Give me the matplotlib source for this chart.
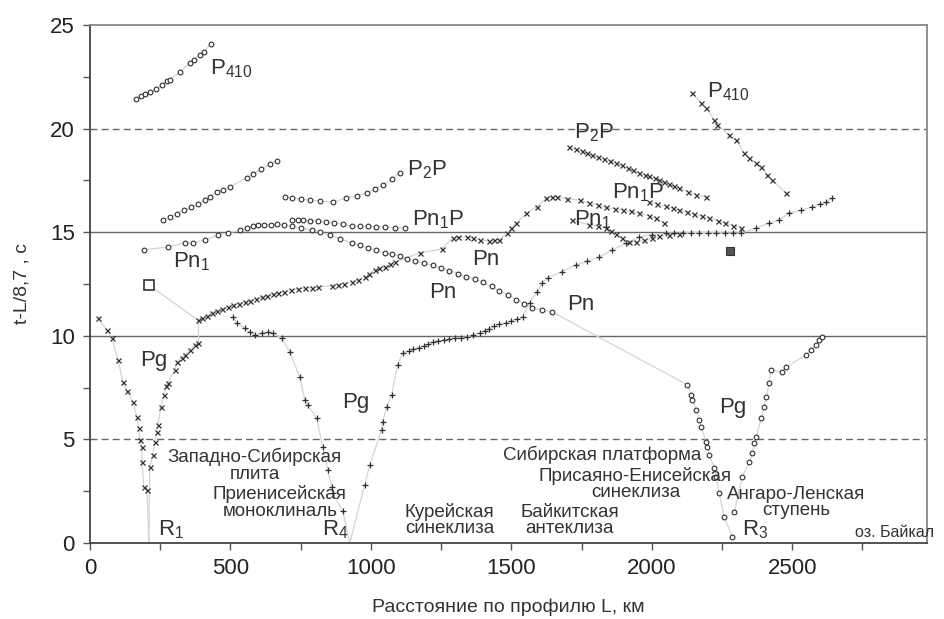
import matplotlib
matplotlib.use("Agg")
import matplotlib.pyplot as plt
from matplotlib.ticker import MultipleLocator

plt.rcParams['font.family'] = ['Liberation Sans', 'DejaVu Sans']
plt.rcParams['mathtext.fontset'] = 'custom'
plt.rcParams['mathtext.rm'] = 'Liberation Sans'

# shot points, km
r1_x = 210
r4_x = 925
r3_x = 2290

# --- R1 (crosses) ---
r1_pg_left_x = [28, 60, 78, 100, 117, 132, 153, 167, 174, 178, 185, 185, 192, 203]
r1_pg_left_y = [10.86, 10.28, 9.89, 8.83, 7.77, 7.34, 6.8, 6.08, 5.55, 4.97, 4.63, 3.9, 2.7, 2.56]
r1_pg_right_x = [213, 224, 231, 238, 242, 252, 263, 270, 277, 302, 309, 327, 338, 356, 373, 384]
r1_pg_right_y = [3.67, 4.25, 4.87, 5.36, 5.69, 6.56, 7.14, 7.58, 7.72, 8.35, 8.74, 8.93, 9.07, 9.31, 9.56, 9.65]
r1_pn_x = [384, 400, 418, 434, 452, 470, 491, 510, 530, 551, 570, 592, 612, 630, 650, 669, 690, 715,
           740, 765, 790, 811, 860, 882, 905, 932, 955, 978, 995, 1013, 1030, 1049, 1068, 1085,
           1174, 1252, 1291, 1310, 1341, 1365, 1387, 1422, 1440, 1458, 1483, 1500, 1518, 1554,
           1590, 1625, 1645, 1661, 1700, 1743, 1778, 1810, 1838, 1870, 1896, 1925, 1956, 1990,
           2016, 2045]
r1_pn_y = [10.76, 10.85, 10.95, 11.1, 11.2, 11.28, 11.39, 11.47, 11.55, 11.63, 11.7, 11.8, 11.87,
           11.93, 12.0, 12.07, 12.12, 12.2, 12.26, 12.3, 12.33, 12.36, 12.42, 12.45, 12.52, 12.6,
           12.7, 12.84, 13.0, 13.18, 13.25, 13.32, 13.45, 13.56, 14.0, 14.19, 14.72, 14.75, 14.77,
           14.7, 14.62, 14.58, 14.6, 14.62, 14.96, 15.2, 15.44, 15.93, 16.22, 16.65, 16.7, 16.7,
           16.62, 16.55, 16.4, 16.3, 16.2, 16.12, 16.07, 16.0, 15.93, 15.8, 15.68, 15.44]
r1_pn1_x = [1715, 1778, 1810, 1838, 1856, 1874, 1895, 1920, 1945, 1974, 2000, 2027, 2060, 2098]
r1_pn1_y = [15.6, 15.35, 15.3, 15.2, 15.05, 14.91, 14.7, 14.55, 14.52, 14.6, 14.7, 14.8, 14.88, 14.93]
r1_pn1p_x = [1991, 2020, 2050, 2075, 2098, 2125, 2150, 2180, 2205, 2235, 2260, 2290, 2319]
r1_pn1p_y = [16.46, 16.35, 16.25, 16.15, 16.07, 15.97, 15.87, 15.77, 15.68, 15.56, 15.45, 15.32, 15.2]
r1_p2p_x = [1707, 1730, 1750, 1770, 1789, 1810, 1830, 1850, 1874, 1895, 1915, 1935, 1956, 1975,
            1990, 2010, 2027, 2045, 2060, 2080, 2098, 2130, 2159, 2194]
r1_p2p_y = [19.11, 19.0, 18.92, 18.82, 18.73, 18.64, 18.55, 18.45, 18.34, 18.22, 18.1, 17.98, 17.86,
            17.77, 17.7, 17.6, 17.52, 17.42, 17.33, 17.23, 17.13, 16.95, 16.8, 16.7]
r1_p410_x = [2145, 2176, 2194, 2223, 2234, 2276, 2301, 2329, 2347, 2372, 2390, 2411, 2429, 2478]
r1_p410_y = [21.7, 21.24, 20.99, 20.41, 20.17, 19.69, 19.45, 18.82, 18.58, 18.34, 18.15, 17.76, 17.52, 16.89]

# --- R4 (pluses) ---
r4_pg_left_x = [509, 523, 551, 569, 587, 612, 633, 651, 683, 711, 747, 765, 775, 807, 829, 846, 861, 864, 900]
r4_pg_left_y = [10.9, 10.6, 10.37, 10.18, 10.04, 10.13, 10.18, 10.13, 9.89, 9.22, 8.01, 6.9, 6.66,
                6.03, 4.63, 3.52, 2.7, 2.41, 1.54]
r4_pn_x = [978, 996, 1038, 1042, 1056, 1074, 1095, 1113, 1135, 1150, 1170, 1190, 1205, 1220, 1240,
           1260, 1280, 1300, 1320, 1341, 1365, 1387, 1405, 1420, 1440, 1458, 1480, 1500, 1520,
           1540, 1565, 1590, 1611, 1629, 1680, 1732, 1770, 1814, 1860, 1910, 1956, 2000, 2052,
           2080, 2110, 2140, 2170, 2200, 2230, 2260, 2290, 2319, 2372, 2418, 2454, 2489, 2530,
           2571, 2600, 2620, 2642]
r4_pn_y = [2.8, 3.76, 5.45, 5.84, 6.56, 7.14, 8.59, 9.17, 9.25, 9.35, 9.42, 9.5, 9.6, 9.7, 9.75,
           9.8, 9.84, 9.88, 9.9, 9.94, 10.05, 10.13, 10.25, 10.35, 10.45, 10.55, 10.62, 10.72, 10.8,
           10.9, 11.6, 12.1, 12.55, 12.79, 13.1, 13.42, 13.6, 13.8, 14.14, 14.48, 14.77, 14.88,
           14.96, 14.96, 14.97, 14.98, 14.98, 14.98, 14.97, 14.97, 14.96, 14.96, 15.2, 15.44, 15.59,
           15.93, 16.05, 16.22, 16.35, 16.46, 16.65]

# --- R3 (circles) ---
r3_p410_x = [165, 180, 195, 215, 235, 255, 275, 284, 320, 356, 370, 391, 405, 430]
r3_p410_y = [21.45, 21.55, 21.65, 21.75, 21.9, 22.1, 22.3, 22.35, 22.73, 23.17, 23.3, 23.55, 23.7, 24.08]
r3_p2p_a_x = [260, 285, 310, 335, 360, 385, 410, 427, 452, 475, 498, 558, 580, 610, 640, 665]
r3_p2p_a_y = [15.59, 15.75, 15.9, 16.05, 16.2, 16.35, 16.55, 16.7, 16.94, 17.05, 17.18, 17.62, 17.8,
              18.05, 18.3, 18.44]
r3_p2p_b_x = [693, 720, 750, 782, 820, 865, 913, 950, 985, 1015, 1042, 1075, 1102]
r3_p2p_b_y = [16.7, 16.65, 16.6, 16.55, 16.5, 16.46, 16.65, 16.75, 16.9, 17.1, 17.28, 17.55, 17.86]
r3_pn1p_x = [718, 740, 760, 785, 811, 840, 870, 900, 932, 960, 990, 1020, 1049, 1085, 1120]
r3_pn1p_y = [15.59, 15.58, 15.57, 15.56, 15.54, 15.5, 15.45, 15.38, 15.3, 15.29, 15.28, 15.26, 15.25,
             15.22, 15.2]
r3_pn_x = [192, 277, 338, 366, 409, 455, 491, 533, 560, 580, 600, 620, 645, 665, 690, 718, 750, 790,
           820, 853, 890, 932, 960, 990, 1020, 1049, 1075, 1102, 1130, 1156, 1190, 1220, 1250, 1280,
           1310, 1340, 1370, 1398, 1430, 1458, 1490, 1518, 1545, 1575, 1610, 1646]
r3_pn_y = [14.14, 14.29, 14.48, 14.48, 14.62, 14.86, 14.96, 15.1, 15.22, 15.3, 15.33, 15.35, 15.37,
           15.38, 15.35, 15.3, 15.2, 15.1, 15.0, 14.86, 14.68, 14.48, 14.37, 14.25, 14.12, 14.0,
           13.93, 13.85, 13.72, 13.6, 13.5, 13.4, 13.28, 13.15, 13.0, 12.85, 12.72, 12.6, 12.38,
           12.15, 11.95, 11.75, 11.55, 11.35, 11.25, 11.15]
r3_pg_left_x = [2127, 2141, 2145, 2159, 2169, 2176, 2194, 2198, 2205, 2223, 2230, 2240, 2258, 2287]
r3_pg_left_y = [7.63, 7.14, 6.9, 6.42, 5.94, 5.6, 4.87, 4.63, 4.25, 3.62, 3.19, 2.41, 1.25, 0.29]
r3_pg_right_x = [2294, 2322, 2347, 2358, 2365, 2372, 2390, 2400, 2408, 2418, 2425, 2464, 2478, 2550,
                 2568, 2585, 2596, 2607]
r3_pg_right_y = [1.5, 3.19, 3.9, 4.34, 4.83, 5.12, 6.03, 6.56, 7.05, 7.72, 8.35, 8.25, 8.49, 9.07,
                 9.31, 9.56, 9.8, 9.94]

# reference marks
open_sq = (210, 12.45)
solid_sq = (2280, 14.1)

fig = plt.figure(figsize=(9.44, 6.19), dpi=100)
ax = fig.add_axes([0.0953, 0.1228, 0.8867, 0.8368])

faint = dict(color='#d4d4d4', lw=0.9, zorder=1)
mk_col = '#2e2e2e'


def branch(x, y, marker, ms):
    ax.plot(x, y, **faint)
    if marker == 'o':
        ax.plot(x, y, ls='none', marker='o', ms=ms, mfc='white', mec=mk_col, mew=0.8, zorder=3)
    else:
        ax.plot(x, y, ls='none', marker=marker, ms=ms, color=mk_col, mew=0.9, zorder=3)


for xs, ys in [(r1_pg_left_x, r1_pg_left_y), (r1_pg_right_x, r1_pg_right_y), (r1_pn_x, r1_pn_y),
               (r1_pn1_x, r1_pn1_y), (r1_pn1p_x, r1_pn1p_y), (r1_p2p_x, r1_p2p_y),
               (r1_p410_x, r1_p410_y)]:
    branch(xs, ys, 'x', 3.6)

for xs, ys in [(r4_pg_left_x, r4_pg_left_y), (r4_pn_x, r4_pn_y)]:
    branch(xs, ys, '+', 5)

for xs, ys in [(r3_p410_x, r3_p410_y), (r3_p2p_a_x, r3_p2p_a_y), (r3_p2p_b_x, r3_p2p_b_y),
               (r3_pn1p_x, r3_pn1p_y), (r3_pn_x, r3_pn_y), (r3_pg_left_x, r3_pg_left_y),
               (r3_pg_right_x, r3_pg_right_y)]:
    branch(xs, ys, 'o', 3.4)

# faint links down to the shot points and between branches
ax.plot([r1_pg_left_x[-1], r1_x], [r1_pg_left_y[-1], 0], **faint)
ax.plot([r1_pg_right_x[0], r1_x], [r1_pg_right_y[0], 0], **faint)
ax.plot([r1_pg_right_x[-1], r1_pn_x[0]], [r1_pg_right_y[-1], r1_pn_y[0]], **faint)
ax.plot([r4_pg_left_x[-1], r4_x], [r4_pg_left_y[-1], 0], **faint)
ax.plot([r4_pn_x[0], r4_x], [r4_pn_y[0], 0], **faint)
ax.plot([r3_pn_x[-1], r3_pg_left_x[0]], [r3_pn_y[-1], r3_pg_left_y[0]], **faint)
ax.plot([open_sq[0], r1_pn_x[0]], [open_sq[1], r1_pn_y[0]], **faint)

ax.plot(*open_sq, ls='none', marker='s', ms=7, mfc='white', mec='#333333', mew=1.2, zorder=4)
ax.plot(*solid_sq, ls='none', marker='s', ms=6, mfc='#555555', mec='#333333', mew=0.8, zorder=4)

# grid
for yv, ls in [(5, (0, (5, 3))), (10, '-'), (15, '-'), (20, (0, (5, 3)))]:
    ax.axhline(yv, color='#666666', lw=1.0, ls=ls, zorder=0)

ax.set_xlim(0, 2980)
ax.set_ylim(0, 25)
ax.xaxis.set_major_locator(MultipleLocator(500))
ax.xaxis.set_minor_locator(MultipleLocator(250))
ax.yaxis.set_major_locator(MultipleLocator(5))
ax.yaxis.set_minor_locator(MultipleLocator(2.5))
ax.tick_params(which='both', direction='out', length=5, width=1.0, color='#555555')
ax.tick_params(which='major', labelsize=16, labelcolor='#222222', pad=6)
for side in ['left', 'bottom']:
    ax.spines[side].set_color('#444444')
    ax.spines[side].set_linewidth(1.3)
for side in ['top', 'right']:
    ax.spines[side].set_color('#888888')
    ax.spines[side].set_linewidth(1.3)

ax.set_xlabel('Расстояние по профилю L, км', fontsize=14, color='#333333', labelpad=14)
ax.set_ylabel('t-L/8,7 , с', fontsize=14, color='#333333', labelpad=14)

# wave labels
wave_fs = 16
wave_labels = [
    (427, 22.9, r'P$_{410}$'), (1127, 18.0, r'P$_{2}$P'), (1145, 15.6, r'Pn$_{1}$P'),
    (296, 13.56, r'Pn$_{1}$'), (1209, 12.07, 'Pn'), (1362, 13.66, 'Pn'), (1700, 11.49, 'Pn'),
    (1725, 19.8, r'P$_{2}$P'), (1860, 16.9, r'Pn$_{1}$P'), (1725, 15.6, r'Pn$_{1}$'),
    (2198, 21.77, r'P$_{410}$'), (178, 8.83, 'Pg'), (896, 6.76, 'Pg'), (2240, 6.56, 'Pg'),
    (242, 0.63, r'R$_{1}$'), (825, 0.63, r'R$_{4}$'), (2322, 0.63, r'R$_{3}$'),
]
for x, y, s in wave_labels:
    ax.text(x, y, s, fontsize=wave_fs, color='#333333', ha='left', va='center', zorder=5)

# structural units along the profile
reg_fs = 13.5
regions = [
    (587, 3.75, 'Западно-Сибирская\nплита'),
    (676, 1.95, 'Приенисейская\nмоноклиналь'),
    (1280, 1.1, 'Курейская\nсинеклиза'),
    (1707, 1.1, 'Байкитская\nантеклиза'),
    (1824, 4.25, 'Сибирская платформа'),
    (1942, 2.85, 'Присаяно-Енисейская\nсинеклиза'),
    (2514, 1.95, 'Ангаро-Ленская\nступень'),
]
for x, y, s in regions:
    ax.text(x, y, s, fontsize=reg_fs, color='#333333', ha='center', va='center',
            linespacing=0.95, zorder=5)
ax.text(2725, 0.53, 'оз. Байкал', fontsize=11.5, color='#333333', ha='left', va='center',
        zorder=5, clip_on=False)

fig.savefig('out.png', dpi=100)
